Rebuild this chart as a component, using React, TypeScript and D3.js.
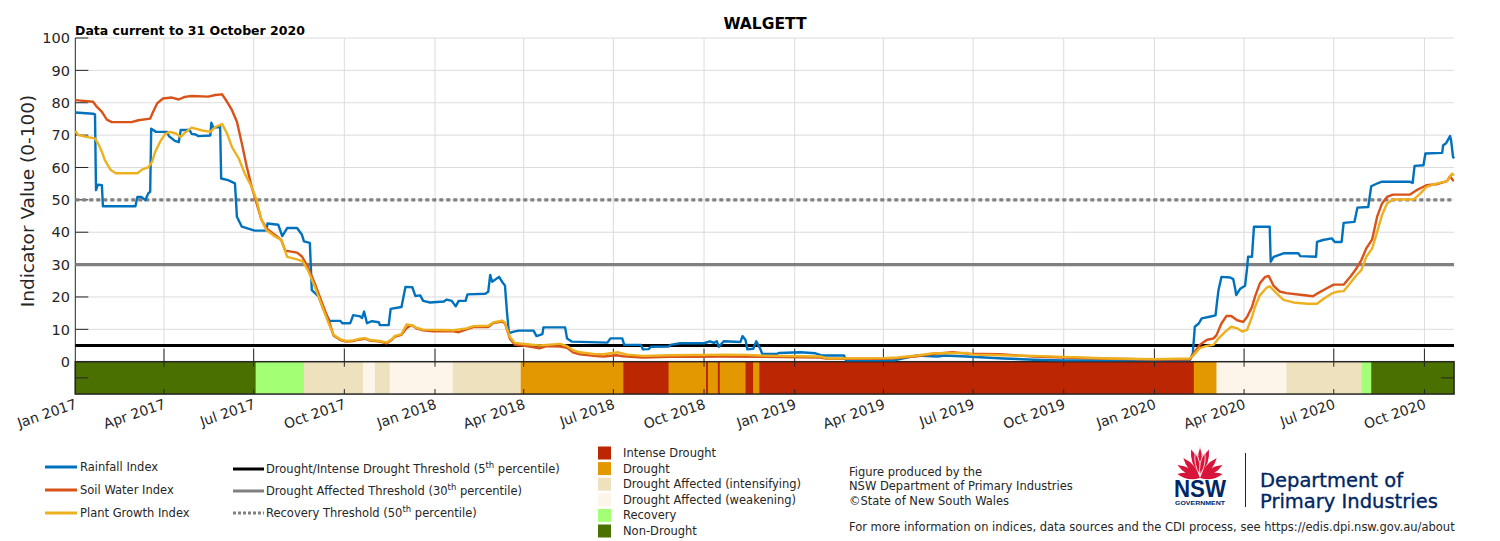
import { useEffect, useRef } from 'react'
import * as d3 from 'd3'

type Pt = [string, number]

const rainfallIndex: Pt[] = [
  ['2017-01-01', 77.0], ['2017-01-19', 76.6], ['2017-01-21', 76.4], ['2017-01-22', 53.0], ['2017-01-24', 54.7],
  ['2017-01-28', 54.5], ['2017-01-29', 48.0], ['2017-03-03', 48.0], ['2017-03-05', 50.9], ['2017-03-09', 50.9],
  ['2017-03-13', 49.9], ['2017-03-16', 52.0], ['2017-03-18', 52.5], ['2017-03-19', 72.0], ['2017-03-24', 71.0],
  ['2017-04-04', 71.0], ['2017-04-06', 69.7], ['2017-04-12', 68.2], ['2017-04-16', 67.8], ['2017-04-18', 71.6],
  ['2017-04-27', 71.6], ['2017-04-29', 70.4], ['2017-05-03', 70.2], ['2017-05-06', 69.7], ['2017-05-18', 69.9],
  ['2017-05-19', 73.8], ['2017-05-21', 72.3], ['2017-05-28', 72.5], ['2017-05-29', 56.6], ['2017-06-05', 56.1],
  ['2017-06-12', 55.1], ['2017-06-14', 44.8], ['2017-06-19', 41.7], ['2017-07-02', 40.5], ['2017-07-14', 40.5],
  ['2017-07-15', 42.7], ['2017-07-26', 42.3], ['2017-07-30', 38.8], ['2017-08-04', 41.3], ['2017-08-14', 41.3],
  ['2017-08-19', 39.2], ['2017-08-21', 37.2], ['2017-08-27', 36.7], ['2017-08-29', 22.1], ['2017-09-05', 20.1],
  ['2017-09-10', 16.0], ['2017-09-16', 12.6], ['2017-09-27', 12.6], ['2017-09-29', 11.9], ['2017-10-07', 11.9],
  ['2017-10-10', 14.4], ['2017-10-17', 14.0], ['2017-10-19', 13.5], ['2017-10-21', 15.5], ['2017-10-24', 11.9],
  ['2017-10-29', 12.5], ['2017-11-05', 12.2], ['2017-11-06', 11.3], ['2017-11-15', 11.3], ['2017-11-17', 16.3],
  ['2017-11-28', 16.9], ['2017-12-02', 23.1], ['2017-12-09', 23.0], ['2017-12-12', 20.3], ['2017-12-17', 20.5],
  ['2017-12-20', 18.8], ['2017-12-27', 18.3], ['2018-01-10', 18.6], ['2018-01-13', 19.2], ['2018-01-18', 18.8],
  ['2018-01-22', 17.1], ['2018-01-25', 18.8], ['2018-02-01', 18.8], ['2018-02-03', 20.8], ['2018-02-21', 21.0],
  ['2018-02-24', 21.6], ['2018-02-26', 26.8], ['2018-02-28', 24.7], ['2018-03-07', 26.2], ['2018-03-10', 24.7],
  ['2018-03-13', 23.5], ['2018-03-15', 15.4], ['2018-03-17', 8.8], ['2018-03-22', 9.3], ['2018-03-27', 9.6],
  ['2018-04-11', 9.6], ['2018-04-14', 7.9], ['2018-04-20', 8.5], ['2018-04-21', 10.6], ['2018-05-13', 10.6],
  ['2018-05-15', 7.2], ['2018-05-20', 6.2], ['2018-06-25', 5.9], ['2018-06-28', 7.2], ['2018-07-10', 7.2],
  ['2018-07-12', 5.2], ['2018-07-29', 5.2], ['2018-07-31', 3.8], ['2018-08-06', 3.9], ['2018-08-08', 4.6],
  ['2018-08-26', 4.7], ['2018-08-28', 5.2], ['2018-09-07', 5.7], ['2018-10-01', 5.7], ['2018-10-07', 6.3],
  ['2018-10-11', 5.8], ['2018-10-14', 6.3], ['2018-10-16', 4.6], ['2018-10-21', 6.3], ['2018-11-07', 6.1],
  ['2018-11-09', 7.9], ['2018-11-12', 6.8], ['2018-11-14', 3.8], ['2018-11-20', 4.0], ['2018-11-23', 6.3],
  ['2018-11-27', 4.0], ['2018-11-29', 2.4], ['2018-12-14', 2.4], ['2018-12-16', 2.7], ['2019-01-07', 2.9],
  ['2019-01-22', 2.6], ['2019-01-29', 1.9], ['2019-02-20', 1.9], ['2019-02-22', 0.4], ['2019-04-12', 0.4],
  ['2019-05-04', 1.9], ['2019-05-26', 1.6], ['2019-06-02', 1.9], ['2019-06-24', 1.6], ['2019-08-01', 1.0],
  ['2019-09-01', 0.6], ['2019-10-01', 0.4], ['2020-02-06', 0.5], ['2020-02-09', 2.6], ['2020-02-11', 10.8],
  ['2020-02-15', 11.8], ['2020-02-18', 13.4], ['2020-02-26', 13.9], ['2020-03-03', 14.3], ['2020-03-04', 17.0],
  ['2020-03-06', 22.1], ['2020-03-09', 26.2], ['2020-03-18', 26.0], ['2020-03-21', 25.5], ['2020-03-23', 22.5],
  ['2020-03-24', 20.6], ['2020-03-28', 22.5], ['2020-04-02', 23.5], ['2020-04-04', 28.8], ['2020-04-05', 32.4],
  ['2020-04-09', 32.4], ['2020-04-11', 41.7], ['2020-04-27', 41.7], ['2020-04-28', 30.9], ['2020-05-01', 32.4],
  ['2020-05-11', 33.5], ['2020-05-26', 33.5], ['2020-05-28', 32.6], ['2020-06-13', 32.4], ['2020-06-14', 37.0],
  ['2020-06-20', 37.6], ['2020-06-29', 38.1], ['2020-07-02', 37.0], ['2020-07-09', 37.0], ['2020-07-11', 42.9],
  ['2020-07-22', 43.2], ['2020-07-25', 47.6], ['2020-08-05', 47.8], ['2020-08-08', 54.2], ['2020-08-15', 55.2],
  ['2020-08-19', 55.6], ['2020-09-16', 55.6], ['2020-09-19', 55.2], ['2020-09-21', 60.5], ['2020-09-30', 60.7],
  ['2020-10-02', 64.3], ['2020-10-19', 64.5], ['2020-10-20', 66.9], ['2020-10-23', 67.5], ['2020-10-27', 69.7],
  ['2020-10-28', 68.5], ['2020-10-30', 63.3], ['2020-10-31', 62.8]
]

const soilWaterIndex: Pt[] = [
  ['2017-01-01', 80.8], ['2017-01-19', 80.3], ['2017-01-23', 78.7], ['2017-01-28', 77.2], ['2017-02-02', 74.8],
  ['2017-02-07', 74.0], ['2017-02-27', 74.0], ['2017-03-06', 74.6], ['2017-03-18', 75.1], ['2017-03-21', 77.2],
  ['2017-03-25', 79.8], ['2017-03-31', 81.3], ['2017-04-09', 81.6], ['2017-04-16', 81.0], ['2017-04-22', 81.8],
  ['2017-04-29', 82.1], ['2017-05-16', 81.9], ['2017-05-23', 82.4], ['2017-05-30', 82.6], ['2017-06-04', 80.3],
  ['2017-06-09', 77.7], ['2017-06-14', 74.1], ['2017-06-19', 67.4], ['2017-06-24', 60.2], ['2017-06-29', 54.0],
  ['2017-07-04', 48.9], ['2017-07-09', 43.7], ['2017-07-14', 41.2], ['2017-07-23', 39.1], ['2017-07-29', 37.6],
  ['2017-08-02', 34.3], ['2017-08-14', 33.7], ['2017-08-19', 32.5], ['2017-08-25', 29.3], ['2017-09-01', 24.2],
  ['2017-09-08', 18.5], ['2017-09-15', 12.9], ['2017-09-20', 8.1], ['2017-09-27', 6.7], ['2017-10-03', 6.2],
  ['2017-10-10', 6.4], ['2017-10-15', 6.8], ['2017-10-22', 7.1], ['2017-10-27', 6.5], ['2017-11-06', 6.2],
  ['2017-11-13', 5.7], ['2017-11-18', 6.7], ['2017-11-21', 7.7], ['2017-11-28', 8.3], ['2017-12-03', 10.3],
  ['2017-12-08', 11.3], ['2017-12-13', 10.3], ['2017-12-20', 9.7], ['2017-12-30', 9.4], ['2018-01-20', 9.4],
  ['2018-01-25', 9.1], ['2018-02-02', 10.0], ['2018-02-09', 10.7], ['2018-02-24', 10.7], ['2018-03-01', 11.9],
  ['2018-03-10', 12.4], ['2018-03-13', 11.8], ['2018-03-18', 7.1], ['2018-03-23', 5.3], ['2018-04-04', 4.8],
  ['2018-04-17', 4.1], ['2018-04-24', 4.8], ['2018-05-08', 4.7], ['2018-05-15', 4.3], ['2018-05-21', 2.9],
  ['2018-05-28', 2.3], ['2018-06-11', 1.8], ['2018-06-21', 1.6], ['2018-07-04', 2.0], ['2018-07-11', 1.7],
  ['2018-07-31', 1.3], ['2018-08-27', 1.5], ['2018-09-20', 1.5], ['2018-10-17', 1.6], ['2018-12-02', 1.5],
  ['2019-01-27', 1.3], ['2019-02-03', 0.9], ['2019-04-01', 0.9], ['2019-04-15', 1.1], ['2019-05-05', 1.7],
  ['2019-05-22', 2.4], ['2019-06-10', 2.9], ['2019-06-25', 2.5], ['2019-07-28', 2.3], ['2019-08-31', 1.6],
  ['2019-10-01', 1.3], ['2019-11-17', 0.9], ['2019-12-31', 0.7], ['2020-02-06', 0.7], ['2020-02-10', 2.6],
  ['2020-02-16', 5.2], ['2020-02-23', 6.7], ['2020-03-01', 7.2], ['2020-03-04', 8.2], ['2020-03-09', 11.8],
  ['2020-03-14', 14.1], ['2020-03-19', 14.1], ['2020-03-25', 12.8], ['2020-03-31', 12.3], ['2020-04-04', 13.8],
  ['2020-04-09', 16.9], ['2020-04-12', 20.0], ['2020-04-17', 24.2], ['2020-04-22', 26.1], ['2020-04-26', 26.5],
  ['2020-05-01', 23.4], ['2020-05-07', 21.7], ['2020-05-14', 21.2], ['2020-05-28', 20.7], ['2020-06-10', 20.2],
  ['2020-06-15', 21.2], ['2020-06-24', 22.7], ['2020-07-01', 23.8], ['2020-07-11', 23.8], ['2020-07-18', 26.3],
  ['2020-07-24', 28.8], ['2020-07-29', 31.4], ['2020-08-03', 35.0], ['2020-08-09', 37.8], ['2020-08-14', 44.8],
  ['2020-08-19', 48.9], ['2020-08-24', 50.9], ['2020-08-30', 51.6], ['2020-09-16', 51.6], ['2020-09-23', 53.0],
  ['2020-10-03', 54.5], ['2020-10-13', 54.8], ['2020-10-24', 55.8], ['2020-10-27', 57.3], ['2020-10-30', 56.0],
  ['2020-10-31', 56.1]
]

const plantGrowthIndex: Pt[] = [
  ['2017-01-01', 71.3], ['2017-01-04', 70.0], ['2017-01-15', 69.3], ['2017-01-21', 69.0], ['2017-01-25', 66.9],
  ['2017-01-28', 64.8], ['2017-01-31', 62.3], ['2017-02-06', 59.2], ['2017-02-11', 58.2], ['2017-03-05', 58.2],
  ['2017-03-10', 59.4], ['2017-03-16', 60.0], ['2017-03-20', 61.8], ['2017-03-23', 64.8], ['2017-03-28', 67.9],
  ['2017-04-02', 70.3], ['2017-04-07', 71.0], ['2017-04-13', 70.5], ['2017-04-18', 69.4], ['2017-04-22', 70.7],
  ['2017-04-29', 72.3], ['2017-05-09', 71.5], ['2017-05-18', 71.0], ['2017-05-23', 72.5], ['2017-05-30', 73.4],
  ['2017-06-04', 70.5], ['2017-06-09', 66.3], ['2017-06-16', 62.7], ['2017-06-22', 58.1], ['2017-06-29', 54.0],
  ['2017-07-04', 49.9], ['2017-07-09', 43.7], ['2017-07-14', 40.6], ['2017-07-23', 38.6], ['2017-07-29', 37.6],
  ['2017-08-04', 32.4], ['2017-08-14', 31.6], ['2017-08-20', 30.9], ['2017-08-25', 28.3], ['2017-09-01', 23.2],
  ['2017-09-08', 17.5], ['2017-09-15', 11.9], ['2017-09-20', 8.3], ['2017-09-27', 6.9], ['2017-10-03', 6.4],
  ['2017-10-10', 6.6], ['2017-10-15', 7.0], ['2017-10-22', 7.3], ['2017-10-27', 6.7], ['2017-11-06', 6.4],
  ['2017-11-13', 5.9], ['2017-11-18', 6.9], ['2017-11-21', 7.9], ['2017-11-28', 8.5], ['2017-12-03', 11.5],
  ['2017-12-08', 11.3], ['2017-12-13', 10.5], ['2017-12-20', 9.9], ['2018-01-20', 9.7], ['2018-02-02', 10.3],
  ['2018-02-09', 11.0], ['2018-02-24', 11.1], ['2018-03-01', 12.1], ['2018-03-10', 12.7], ['2018-03-13', 12.1],
  ['2018-03-18', 7.6], ['2018-03-23', 5.8], ['2018-04-04', 5.4], ['2018-04-17', 5.0], ['2018-05-08', 5.5],
  ['2018-05-15', 4.8], ['2018-05-21', 3.6], ['2018-05-28', 2.9], ['2018-06-11', 2.4], ['2018-06-21', 2.3],
  ['2018-07-06', 2.9], ['2018-07-15', 2.2], ['2018-07-31', 1.8], ['2018-08-27', 2.0], ['2018-10-24', 2.2],
  ['2018-11-13', 2.1], ['2018-11-27', 1.9], ['2019-01-27', 1.6], ['2019-02-03', 1.0], ['2019-04-01', 1.1],
  ['2019-04-15', 1.3], ['2019-05-05', 1.9], ['2019-05-22', 2.6], ['2019-06-25', 2.7], ['2019-07-01', 2.2],
  ['2019-07-28', 2.0], ['2019-08-31', 1.8], ['2019-10-01', 1.5], ['2019-11-17', 1.0], ['2019-12-31', 0.8],
  ['2020-02-06', 1.0], ['2020-02-10', 2.1], ['2020-02-16', 4.2], ['2020-02-23', 4.9], ['2020-03-01', 5.2],
  ['2020-03-06', 7.2], ['2020-03-13', 9.3], ['2020-03-19', 10.8], ['2020-03-25', 10.3], ['2020-03-30', 9.3],
  ['2020-04-04', 9.8], ['2020-04-09', 13.8], ['2020-04-12', 16.9], ['2020-04-17', 20.5], ['2020-04-24', 22.9],
  ['2020-04-27', 23.3], ['2020-05-04', 21.1], ['2020-05-11', 19.1], ['2020-05-21', 18.3], ['2020-06-04', 17.9],
  ['2020-06-14', 17.9], ['2020-06-20', 19.3], ['2020-06-29', 21.1], ['2020-07-04', 21.6], ['2020-07-11', 21.8],
  ['2020-07-16', 23.6], ['2020-07-24', 26.7], ['2020-07-29', 28.3], ['2020-08-03', 32.4], ['2020-08-09', 35.0],
  ['2020-08-14', 40.1], ['2020-08-19', 45.3], ['2020-08-24', 48.9], ['2020-08-30', 50.1], ['2020-09-20', 50.1],
  ['2020-09-27', 52.0], ['2020-10-03', 54.0], ['2020-10-13', 55.0], ['2020-10-24', 55.8], ['2020-10-29', 58.1],
  ['2020-10-31', 57.6]
]

// drought phase band: each period starts on the given date and runs to the next one
const phaseNames = ['Intense Drought', 'Drought', 'Drought Affected (intensifying)', 'Drought Affected (weakening)', 'Recovery', 'Non-Drought']
const phaseColors = ['#bd2603', '#e39700', '#eee1bd', '#fdf5ea', '#a3ff73', '#4a7000']
const phaseStarts = [
  '2017-01-01', '2017-07-03', '2017-08-21', '2017-10-20', '2017-11-01', '2017-11-16', '2018-01-19', '2018-03-29',
  '2018-07-11', '2018-08-26', '2018-10-03', '2018-10-05', '2018-10-15', '2018-10-17', '2018-11-12', '2018-11-20',
  '2018-11-26', '2020-02-10', '2020-03-04', '2020-05-14', '2020-07-29', '2020-08-08'
]
const phaseIndex = [5, 4, 2, 3, 2, 3, 2, 1, 0, 1, 0, 1, 0, 1, 0, 1, 0, 1, 3, 2, 4, 5]

const seriesNames = ['Rainfall Index', 'Soil Water Index', 'Plant Growth Index']
const seriesColors = ['#0072bd', '#d95319', '#edb120']
const thresholds = [5, 30, 50]
const yTicks = [0, 10, 20, 30, 40, 50, 60, 70, 80, 90, 100]
const startDate = '2017-01-01'
const endDate = '2020-10-31'

const FONT = "'DejaVu Sans', sans-serif"
const INK = '#262626'

function petal(bx: number, by: number, ang: number, len: number, w: number) {
  const r = (ang * Math.PI) / 180
  const tx = bx + Math.sin(r) * len, ty = by - Math.cos(r) * len
  const mx = bx + Math.sin(r) * len * 0.5, my = by - Math.cos(r) * len * 0.5
  const nx = Math.cos(r) * w, ny = Math.sin(r) * w
  return `M${bx},${by} Q${mx - nx},${my - ny} ${tx},${ty} Q${mx + nx},${my + ny} ${bx},${by} Z`
}

export default function App() {
  const svgRef = useRef<SVGSVGElement>(null)

  useEffect(() => {
    if (!svgRef.current) return
    const svg = d3.select(svgRef.current)
    svg.selectAll('*').remove()

    const parse = d3.timeParse('%Y-%m-%d')
    const d0 = parse(startDate)!, d1 = parse(endDate)!
    const x = d3.scaleTime().domain([d0, d1]).range([75.3, 1454])
    const y = d3.scaleLinear().domain([0, 100]).range([361.7, 38])
    const left = x(d0), right = x(d1)
    const bandTop = y(0), bandBot = y(-10)
    const quarters = d3.timeMonth.every(3)!.range(d0, d3.timeDay.offset(d1, 1))

    // grid
    const grid = svg.append('g').attr('stroke', '#dcdcdc').attr('stroke-width', 1)
    grid.selectAll('line.h').data(yTicks.slice(1)).enter().append('line')
      .attr('x1', left).attr('x2', right).attr('y1', d => y(d)).attr('y2', d => y(d))
    grid.selectAll('line.v').data(quarters.slice(1)).enter().append('line')
      .attr('x1', d => x(d)).attr('x2', d => x(d)).attr('y1', y(100)).attr('y2', bandTop)

    // drought phase band
    svg.append('g').selectAll('rect').data(phaseStarts).enter().append('rect')
      .attr('x', d => x(parse(d)!))
      .attr('width', (d, i) => x(parse(phaseStarts[i + 1] ?? endDate)!) - x(parse(d)!) + 0.4)
      .attr('y', bandTop).attr('height', bandBot - bandTop)
      .attr('fill', (d, i) => phaseColors[phaseIndex[i]])
    svg.append('rect').attr('x', left).attr('y', bandTop).attr('width', right - left).attr('height', bandBot - bandTop)
      .attr('fill', 'none').attr('stroke', INK).attr('stroke-width', 1.5)

    // ticks
    const ticks = svg.append('g').attr('stroke', INK).attr('stroke-width', 1)
    ticks.selectAll('line.m').data(quarters.slice(1)).enter().append('line')
      .attr('x1', d => x(d)).attr('x2', d => x(d)).attr('y1', bandTop - 13).attr('y2', bandTop)
    ticks.selectAll('line.bt').data(quarters.slice(1)).enter().append('line')
      .attr('x1', d => x(d)).attr('x2', d => x(d)).attr('y1', bandTop).attr('y2', bandTop + 5)
    ticks.selectAll('line.bb').data(quarters.slice(1)).enter().append('line')
      .attr('x1', d => x(d)).attr('x2', d => x(d)).attr('y1', bandBot - 5).attr('y2', bandBot)
    ticks.selectAll('line.y').data(yTicks).enter().append('line')
      .attr('x1', left).attr('x2', left + 13).attr('y1', d => y(d)).attr('y2', d => y(d))
    ticks.append('line').attr('x1', left).attr('x2', left + 13).attr('y1', y(-5)).attr('y2', y(-5))
    ticks.append('line').attr('x1', right - 13).attr('x2', right).attr('y1', y(-5)).attr('y2', y(-5))
    ticks.append('line').attr('x1', left).attr('x2', left).attr('y1', y(100)).attr('y2', bandBot)

    // threshold lines
    const thStyle = [
      { color: '#000000', dash: null },
      { color: '#808080', dash: null },
      { color: '#808080', dash: '4,3' }
    ]
    svg.append('g').selectAll('line').data(thresholds).enter().append('line')
      .attr('x1', left).attr('x2', right).attr('y1', d => y(d)).attr('y2', d => y(d))
      .attr('stroke', (d, i) => thStyle[i].color).attr('stroke-width', 3.2)
      .attr('stroke-dasharray', (d, i) => thStyle[i].dash)

    // index lines
    const line = d3.line<Pt>().x(d => x(parse(d[0])!)).y(d => y(d[1]))
    const series = [rainfallIndex, soilWaterIndex, plantGrowthIndex]
    svg.append('g').selectAll('path').data(series).enter().append('path')
      .attr('d', d => line(d))
      .attr('fill', 'none')
      .attr('stroke', (d, i) => seriesColors[i])
      .attr('stroke-width', 2.4)
      .attr('stroke-linejoin', 'round')

    // axis labels
    svg.append('g').selectAll('text').data(yTicks).enter().append('text')
      .attr('x', 70).attr('y', d => y(d)).attr('dy', '0.36em')
      .attr('text-anchor', 'end').style('font', `14.5px ${FONT}`).attr('fill', INK)
      .text(d => d)
    const fmt = d3.timeFormat('%b %Y')
    svg.append('g').selectAll('text').data(quarters).enter().append('text')
      .attr('transform', d => `translate(${x(d) - 1},${bandBot + 4}) rotate(-19)`)
      .attr('dy', '0.75em').attr('text-anchor', 'end')
      .style('font', `14px ${FONT}`).attr('fill', INK)
      .text(d => fmt(d))
    svg.append('text')
      .attr('transform', `translate(34,201) rotate(-90)`)
      .attr('text-anchor', 'middle')
      .style('font', `18.5px ${FONT}`).attr('fill', INK)
      .text('Indicator Value (0-100)')

    svg.append('text').attr('x', 765).attr('y', 29).attr('text-anchor', 'middle')
      .style('font', `bold 15.5px ${FONT}`).attr('fill', '#000').text('WALGETT')
    svg.append('text').attr('x', 75).attr('y', 35)
      .style('font', `bold 12.5px ${FONT}`).attr('fill', '#000').text('Data current to 31 October 2020')

    // legend: indices
    const lg = svg.append('g').style('font', `11.5px ${FONT}`)
    seriesNames.forEach((name, i) => {
      const yy = 467 + i * 23
      lg.append('line').attr('x1', 45).attr('x2', 77).attr('y1', yy).attr('y2', yy)
        .attr('stroke', seriesColors[i]).attr('stroke-width', 3)
      lg.append('text').attr('x', 80).attr('y', yy).attr('dy', '0.35em').attr('fill', INK).text(name)
    })
    const thLabels = [
      ['Drought/Intense Drought Threshold (5', ' percentile)'],
      ['Drought Affected Threshold (30', ' percentile)'],
      ['Recovery Threshold (50', ' percentile)']
    ]
    thLabels.forEach((parts, i) => {
      const yy = 469 + i * 22
      lg.append('line').attr('x1', 233).attr('x2', 264).attr('y1', yy).attr('y2', yy)
        .attr('stroke', thStyle[i].color).attr('stroke-width', 3)
        .attr('stroke-dasharray', i === 2 ? '3,2' : null)
      const t = lg.append('text').attr('x', 266).attr('y', yy + 4).attr('fill', INK)
      t.append('tspan').text(parts[0])
      t.append('tspan').attr('dy', -5).style('font-size', '8.5px').text('th')
      t.append('tspan').attr('dy', 5).text(parts[1])
    })

    // legend: drought phases
    phaseNames.forEach((name, i) => {
      const yy = 453 + i * 15.6
      lg.append('rect').attr('x', 598).attr('y', yy - 6.5).attr('width', 13).attr('height', 13)
        .attr('fill', phaseColors[i])
      lg.append('text').attr('x', 623).attr('y', yy).attr('dy', '0.35em').attr('fill', INK).text(name)
    })

    // credits
    const credits = ['Figure produced by the', 'NSW Department of Primary Industries', '\u00a9State of New South Wales']
    credits.forEach((c, i) => {
      lg.append('text').attr('x', 849).attr('y', 471.5 + i * 14.5).attr('dy', '0.35em').attr('fill', INK).text(c)
    })
    lg.append('text').attr('x', 849).attr('y', 526.5).attr('dy', '0.35em').attr('fill', INK)
      .text('For more information on indices, data sources and the CDI process, see https://edis.dpi.nsw.gov.au/about')

    // NSW logo
    const logo = svg.append('g')
    const red = '#d7153a'
    const bx = 1200, by = 478
    ;[-80, -60, -40, 40, 60, 80].forEach((a, i) => {
      logo.append('path').attr('d', petal(bx, by, a, 26 + (i === 0 || i === 5 ? -3 : 0), 6)).attr('fill', red)
    })
    ;[-20, 0, 20].forEach(a => {
      logo.append('path').attr('d', petal(bx, by - 4, a, 26, 6.5)).attr('fill', red)
    })
    logo.append('path').attr('d', petal(bx, by - 3, 0, 29, 5)).attr('fill', red)
      .attr('stroke', '#fff').attr('stroke-width', 0.8)
    ;[-12, 12].forEach(a => {
      logo.append('path').attr('d', petal(bx, by - 3, a, 23, 4.5)).attr('fill', red)
        .attr('stroke', '#fff').attr('stroke-width', 0.8)
    })
    logo.append('text').attr('x', 1200).attr('y', 497).attr('text-anchor', 'middle')
      .attr('textLength', 52).attr('lengthAdjust', 'spacingAndGlyphs')
      .style('font', "bold 24px 'Liberation Sans', sans-serif").attr('fill', '#002664').text('NSW')
    logo.append('text').attr('x', 1200).attr('y', 505).attr('text-anchor', 'middle')
      .attr('textLength', 50).attr('lengthAdjust', 'spacingAndGlyphs')
      .style('font', "bold 5px 'Liberation Sans', sans-serif").attr('fill', '#002664').text('GOVERNMENT')
    logo.append('line').attr('x1', 1245.5).attr('x2', 1245.5).attr('y1', 453).attr('y2', 507)
      .attr('stroke', '#002664').attr('stroke-width', 1)
    const dept = logo.append('g').attr('fill', '#002664').attr('stroke', '#002664').attr('stroke-width', 0.35)
      .style('font', `19.5px ${FONT}`)
    dept.append('text').attr('x', 1260).attr('y', 487).text('Department of')
    dept.append('text').attr('x', 1260).attr('y', 508).text('Primary Industries')
  }, [])

  return (
    <div style={{ position: 'absolute', left: 0, top: 0, background: '#fff' }}>
      <svg ref={svgRef} width={1500} height={541} style={{ display: 'block' }} />
    </div>
  )
}
